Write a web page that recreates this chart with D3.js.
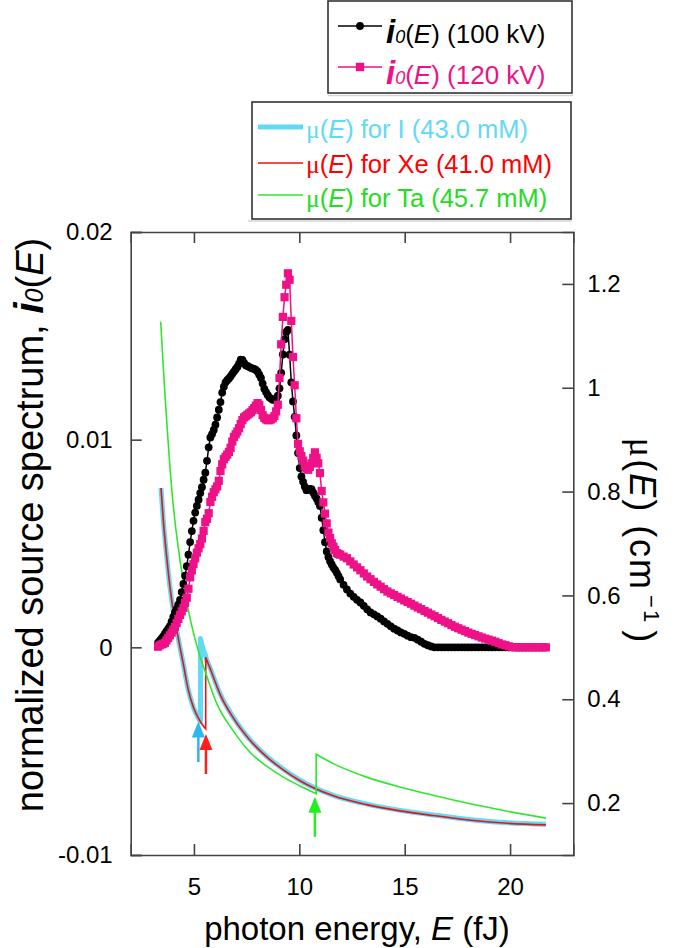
<!DOCTYPE html>
<html><head><meta charset="utf-8">
<script src="https://cdn.jsdelivr.net/npm/d3@7"></script>
<style>
html,body{margin:0;padding:0;background:#fff;}
svg{display:block;font-family:"Liberation Sans",Arial,Helvetica,sans-serif;}
</style></head><body>
<svg id="chart" width="685" height="948"></svg>
<script>
// ---------- data ----------
// photon energy of spectrum bins, fJ
const energy = [
3.30,3.38,3.46,3.54,3.62,3.70,3.78,3.86,3.94,
4.02,4.10,4.18,4.26,4.34,4.42,4.50,4.58,4.66,4.74,4.82,4.90,4.98,
5.06,5.14,5.22,5.30,5.38,5.46,5.54,5.62,5.70,5.78,5.86,5.94,
6.02,6.10,6.18,6.26,6.34,6.42,6.50,6.58,6.66,6.74,6.82,6.90,6.98,
7.06,7.14,7.22,7.30,7.38,7.46,7.54,7.62,7.70,7.78,7.86,7.94,
8.02,8.10,8.18,8.26,8.34,8.42,8.50,8.58,8.66,8.74,8.82,8.90,8.98,
9.06,9.14,9.22,9.30,9.38,9.46,9.54,9.62,9.70,9.78,9.86,9.94,
10.02,10.10,10.18,10.26,10.34,10.42,10.50,10.58,10.66,10.74,10.82,10.90,10.98,
11.06,11.14,11.22,11.30,11.38,11.46,11.54,11.62,11.70,11.78,11.86,11.94,
12.10,12.26,12.42,12.58,12.74,12.90,13.06,13.22,13.38,13.54,13.70,13.86,
14.02,14.18,14.34,14.50,14.66,14.82,14.98,15.14,15.30,15.46,15.62,15.78,15.94,
16.10,16.26,16.42,16.58,16.74,16.90,17.06,17.22,17.38,17.54,17.70,17.86,
18.02,18.18,18.34,18.50,18.66,18.82,18.98,19.14,19.30,19.46,19.62,19.78,19.94,
20.10,20.26,20.42,20.58,20.74,20.90,21.06,21.22,21.38,21.54,21.70];

// normalized source spectrum i0(E), in units of 1e-4
const i0_100kV = [
2.2,3.2,4.2,5.3,6.6,7.8,9.0,10.2,12.4,
14.7,16.8,18.5,20.6,22.8,26.6,30.5,34.5,39.1,44.6,50.7,56.0,60.9,
64.9,68.1,71.1,74.3,77.1,80.7,84.1,89.8,96.3,101.1,102.7,104.7,
107.2,110.7,114.4,118.1,122.7,125.5,127.6,128.6,129.5,130.5,131.7,132.8,133.9,
135.0,136.6,138.5,138.4,137.0,135.8,135.5,135.1,134.6,134.3,134.1,133.6,
132.7,131.3,129.7,127.0,124.5,122.9,121.5,120.4,119.8,119.2,119.3,119.6,121.2,
124.7,132.2,141.0,148.4,151.9,152.8,140.9,127.6,118.4,111.0,102.0,93.6,
86.3,82.3,79.7,77.4,75.7,75.8,76.3,76.2,74.5,73.0,71.7,70.0,68.0,
62.4,56.4,50.6,46.2,43.5,41.5,39.9,38.4,37.3,35.9,34.3,32.7,
30.1,27.9,25.9,24.3,22.9,21.6,20.0,18.3,16.8,15.9,14.9,13.8,
12.5,11.3,10.1,9.0,8.1,7.2,6.5,5.6,4.9,4.6,3.7,2.7,1.7,
1.0,0.4,0,0,0,0,0,0,0,0,0,0,
0,0,0,0,0,0,0,0,0,0,0,0,0,
0,0,0,0,0,0,0,0,0,0,0];

const i0_120kV = [
0.3,1.0,1.4,1.7,2.1,3.3,4.5,5.8,7.1,
8.5,9.8,11.7,13.7,15.6,17.3,19.0,21.4,23.9,28.2,33.7,37.0,40.1,
42.9,45.6,47.7,49.7,52.4,56.1,60.3,61.9,64.6,70.0,72.5,74.7,
76.1,77.5,80.2,84.9,88.1,90.6,91.7,92.8,94.1,96.1,99.1,101.3,102.6,
103.9,105.5,107.5,109.4,110.7,111.3,112.0,112.6,113.2,114.2,115.2,116.4,
117.6,116.7,114.3,111.8,110.5,109.8,109.4,109.4,109.8,110.3,111.4,113.6,116.8,
129.7,145.9,159.1,168.6,174.6,180.1,177.0,157.2,139.8,126.2,110.3,98.0,
94.4,92.1,89.9,87.2,86.1,85.5,86.9,88.6,91.2,93.9,91.3,88.6,83.9,
75.3,69.8,64.4,59.7,55.3,52.6,50.1,48.5,46.9,45.4,45.0,44.6,
43.7,42.9,41.4,39.9,38.5,37.1,35.6,34.1,32.8,31.5,30.3,29.2,
28.0,26.9,26.0,25.2,24.3,23.5,22.6,21.8,21.0,20.1,19.2,18.4,17.5,
16.7,15.8,15.0,14.1,13.2,12.4,11.6,10.7,9.9,9.2,8.5,7.8,
7.1,6.5,5.9,5.3,4.7,4.2,3.7,3.2,2.7,2.0,1.4,1.0,0.5,
0.1,0,0,0,0,0,0,0,0,0,0];

// attenuation coefficient mu(E), cm^-1 (a repeated energy marks a K edge)
const muI_E = [3.437,3.546,3.708,3.864,4.021,4.182,4.339,4.495,4.732,4.970,5.207,5.31,
               5.31,5.42,5.54,5.62,5.762,5.918,6.236,6.867,7.659,8.452,9.239,10.031,10.743,11.611,13.195,14.776,16.355,17.939,19.519,21.701];
const muI   = [0.807,0.745,0.674,0.616,0.570,0.533,0.500,0.468,0.418,0.385,0.364,0.357,
               0.517,0.499,0.485,0.474,0.461,0.444,0.411,0.365,0.322,0.290,0.265,0.244,0.229,0.215,0.198,0.186,0.177,0.169,0.163,0.159];
const muXe_E = [3.437,3.546,3.708,3.864,4.021,4.182,4.339,4.495,4.732,4.970,5.207,5.31,5.42,5.56,
                5.56,5.62,5.762,5.918,6.236,6.867,7.659,8.452,9.239,10.031,10.743,11.611,13.195,14.776,16.355,17.939,19.519,21.701];
const muXe   = [0.807,0.745,0.674,0.616,0.570,0.533,0.500,0.468,0.418,0.385,0.364,0.357,0.350,0.343,
                0.481,0.474,0.460,0.443,0.410,0.364,0.321,0.289,0.264,0.243,0.228,0.214,0.197,0.185,0.176,0.168,0.162,0.158];
const muTa_E = [3.423,3.532,3.627,3.769,3.959,4.149,4.339,4.528,4.732,5.003,5.287,5.605,6.080,6.867,7.659,8.452,9.239,10.031,10.80,
                10.80,11.611,13.195,14.776,16.355,17.939,19.519,21.701];
const muTa   = [1.127,1.050,0.986,0.900,0.799,0.726,0.668,0.620,0.572,0.524,0.483,0.445,0.392,0.339,0.298,0.271,0.250,0.233,0.218,
                0.294,0.276,0.250,0.231,0.215,0.200,0.187,0.171];

// K-edge arrows: energy, tip and tail (mu units)
const arrowE    = [5.21, 5.57, 10.74];
const arrowTip  = [0.357, 0.333, 0.212];
const arrowTail = [0.279, 0.256, 0.135];
const arrowCol  = ["#2bb8f0", "#ff2020", "#22ee22"];

// axis ticks
const xTicks = [5,10,15,20];
const xTickLabels = ["5","10","15","20"];
const yLTicks = [-0.01,0,0.01,0.02];
const yLTickLabels = ["-0.01","0","0.01","0.02"];
const yRTicks = [0.2,0.4,0.6,0.8,1.0,1.2];
const yRTickLabels = ["0.2","0.4","0.6","0.8","1","1.2"];

// ---------- drawing ----------
const C = {black:"#000000", pink:"#ee1188", cyan:"#62d9f5", red:"#ee1111", green:"#2ee82e", axis:"#444"};
const L = 130.7, R = 573.3, T = 232, B = 855;
const svg = d3.select("#chart");
const x  = d3.scaleLinear().domain([2,23]).range([L,R]);
const yL = d3.scaleLinear().domain([-0.01,0.02]).range([B,T]);
const yR = d3.scaleLinear().domain([0.1,1.3]).range([B,T]);

function edgePath(E, M){
  const pts = E.map((e,i)=>[x(e), yR(M[i])]);
  const segs=[]; let cur=[pts[0]];
  for(let i=1;i<pts.length;i++){ if(E[i]===E[i-1]){segs.push(cur);cur=[pts[i]];} else cur.push(pts[i]); }
  segs.push(cur);
  const gen=d3.line().curve(d3.curveMonotoneX);
  return segs.map((s,k)=>{const d=gen(s); return k? "L"+d.slice(1): d;}).join("");
}

const plot = svg.append("g");
// mu curves
plot.append("path").attr("d",edgePath(muI_E,muI)).attr("fill","none").attr("stroke",C.cyan).attr("stroke-width",5).attr("stroke-linejoin","round");
plot.append("path").attr("d",edgePath(muXe_E,muXe)).attr("fill","none").attr("stroke",C.red).attr("stroke-width",1.6);
plot.append("path").attr("d",edgePath(muTa_E,muTa)).attr("fill","none").attr("stroke",C.green).attr("stroke-width",1.6);

// arrows
arrowE.forEach((e,i)=>{
  const ax=x(e), yt=yR(arrowTip[i]), yb=yR(arrowTail[i]);
  plot.append("line").attr("x1",ax).attr("x2",ax).attr("y1",yt+10).attr("y2",yb).attr("stroke",arrowCol[i]).attr("stroke-width",2.5);
  plot.append("path").attr("d",`M${ax},${yt} L${ax-6.5},${yt+16} L${ax+6.5},${yt+16} Z`).attr("fill",arrowCol[i]);
});

// spectra
const spec = (vals)=> energy.map((e,i)=>[e, vals[i]*1e-4]);
const s100 = spec(i0_100kV), s120 = spec(i0_120kV);
const line = d3.line().x(d=>x(d[0])).y(d=>yL(d[1]));
plot.append("path").attr("d",line(s100)).attr("fill","none").attr("stroke",C.black).attr("stroke-width",1.5);
plot.selectAll("circle.s100").data(s100).enter().append("circle")
  .attr("cx",d=>x(d[0])).attr("cy",d=>yL(d[1])).attr("r",3.9).attr("fill",C.black);
plot.append("path").attr("d",line(s120)).attr("fill","none").attr("stroke",C.pink).attr("stroke-width",1.5);
plot.selectAll("rect.s120").data(s120).enter().append("rect")
  .attr("x",d=>x(d[0])-4.1).attr("y",d=>yL(d[1])-4.1).attr("width",8.2).attr("height",8.2).attr("fill",C.pink);

// axes
function styleAxis(g){
  g.selectAll(".domain").attr("stroke",C.axis).attr("stroke-width",1.6).attr("fill","none");
  g.selectAll(".tick line").attr("stroke",C.axis).attr("stroke-width",1.6);
  g.selectAll(".tick text").attr("fill","#000").attr("font-family",'"Liberation Sans",Arial,sans-serif');
}
const fs = 24;
svg.append("g").attr("transform",`translate(0,${B})`)
  .call(d3.axisBottom(x).tickValues(xTicks).tickSize(-11).tickPadding(23).tickFormat((d,i)=>xTickLabels[i]))
  .call(styleAxis).call(g=>g.selectAll(".tick text").attr("font-size",fs));
svg.append("g").attr("transform",`translate(0,${T})`)
  .call(d3.axisTop(x).tickValues(xTicks).tickSize(-11).tickFormat(""))
  .call(styleAxis);
svg.append("g").attr("transform",`translate(${L},0)`)
  .call(d3.axisLeft(yL).tickValues(yLTicks).tickSize(-11).tickPadding(18).tickFormat((d,i)=>yLTickLabels[i]))
  .call(styleAxis).call(g=>g.selectAll(".tick text").attr("font-size",fs));
svg.append("g").attr("transform",`translate(${R},0)`)
  .call(d3.axisRight(yR).tickValues(yRTicks).tickSize(-11).tickPadding(14).tickFormat((d,i)=>yRTickLabels[i]))
  .call(styleAxis).call(g=>g.selectAll(".tick text").attr("font-size",fs));

// axis titles
svg.append("text").attr("x",357).attr("y",940).attr("text-anchor","middle").attr("font-size",33)
  .call(t=>{t.append("tspan").text("photon energy, ");t.append("tspan").attr("font-style","italic").text("E");t.append("tspan").text(" (fJ)");});

const yt = svg.append("text").attr("transform","translate(43,525) rotate(-90)").attr("text-anchor","middle").attr("font-size",38);
yt.append("tspan").text("normalized source spectrum, ");
yt.append("tspan").attr("font-weight","bold").attr("font-style","italic").attr("font-size",41).text("i");
yt.append("tspan").attr("font-style","italic").attr("font-size",25).text("0");
yt.append("tspan").text("(");
yt.append("tspan").attr("font-style","italic").text("E");
yt.append("tspan").text(")");

const rt = svg.append("text").attr("transform","translate(630,541) rotate(90)").attr("text-anchor","middle").attr("font-size",36).attr("letter-spacing",2);
rt.append("tspan").attr("font-family",'"Liberation Serif",serif').text("μ");
rt.append("tspan").text("(");
rt.append("tspan").attr("font-style","italic").text("E");
rt.append("tspan").text(") (cm");
rt.append("tspan").attr("font-size",22).attr("dy",-14).attr("dx",4).text("−1");
rt.append("tspan").attr("dy",14).attr("dx",6).text(")");

// legends
svg.append("line").attr("x1",328).attr("x2",573).attr("y1",95.5).attr("y2",95.5).attr("stroke","#d4d4d4").attr("stroke-width",1.5);
svg.append("rect").attr("x",328).attr("y",1).attr("width",244).attr("height",92).attr("fill","#fff").attr("stroke","#333").attr("stroke-width",1.6);
svg.append("line").attr("x1",248).attr("x2",572).attr("y1",221).attr("y2",221).attr("stroke","#d4d4d4").attr("stroke-width",1.5);
svg.append("rect").attr("x",252).attr("y",102).attr("width",319).attr("height",117).attr("fill","#fff").attr("stroke","#333").attr("stroke-width",1.6);

const leg1 = [{label:" (100 kV)", color:C.black, y:26, marker:"circle"},{label:" (120 kV)", color:C.pink, y:67, marker:"square"}];
leg1.forEach(d=>{
  svg.append("line").attr("x1",338).attr("x2",382).attr("y1",d.y).attr("y2",d.y).attr("stroke",d.color).attr("stroke-width",1.5);
  if(d.marker==="circle") svg.append("circle").attr("cx",360).attr("cy",d.y).attr("r",3.9).attr("fill",d.color);
  else svg.append("rect").attr("x",355.8).attr("y",d.y-4.2).attr("width",8.4).attr("height",8.4).attr("fill",d.color);
  const t = svg.append("text").attr("x",386).attr("y",d.y+17).attr("font-size",26).attr("fill",d.color);
  t.append("tspan").attr("font-weight","bold").attr("font-style","italic").attr("font-size",33).text("i");
  t.append("tspan").attr("font-style","italic").attr("font-size",18).text("0");
  t.append("tspan").text("(");
  t.append("tspan").attr("font-style","italic").text("E");
  t.append("tspan").text(")"+d.label);
});

const leg2 = [{name:"I", conc:"43.0", color:C.cyan, line:C.cyan, w:5, y:127, by:138},
              {name:"Xe", conc:"41.0", color:"#ff0000", line:C.red, w:1.5, y:163, by:173},
              {name:"Ta", conc:"45.7", color:"#22dd22", line:C.green, w:1.5, y:195, by:207}];
leg2.forEach(d=>{
  svg.append("line").attr("x1",258).attr("x2",303).attr("y1",d.y).attr("y2",d.y).attr("stroke",d.line).attr("stroke-width",d.w);
  const t = svg.append("text").attr("x",306).attr("y",d.by).attr("font-size",25.5).attr("fill",d.color);
  t.append("tspan").attr("font-family",'"Liberation Serif",serif').text("μ");
  t.append("tspan").text("(");
  t.append("tspan").attr("font-style","italic").text("E");
  t.append("tspan").text(`) for ${d.name} (${d.conc} mM)`);
});
</script>
</body></html>
